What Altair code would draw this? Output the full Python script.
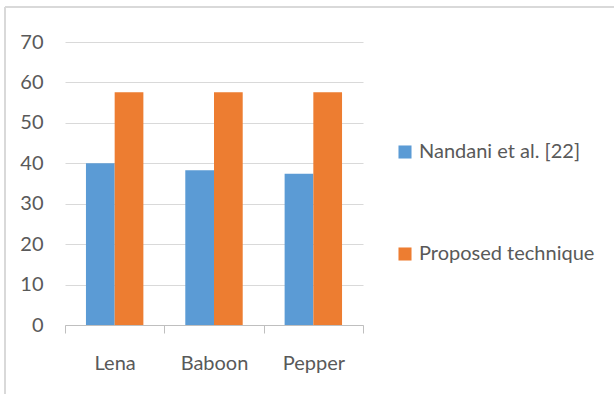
import altair as alt
import pandas as pd

# Average values per test image for each method
images = ["Lena", "Baboon", "Pepper"]
nandani = [40.0, 38.3, 37.4]
proposed = [57.6, 57.6, 57.6]
methods = ["Nandani et al. [22]", "Proposed technique"]
colors = ["#5b9bd5", "#ed7d31"]
y_ticks = [0, 10, 20, 30, 40, 50, 60, 70]

rows = []
for img, a, b in zip(images, nandani, proposed):
    rows.append({"image": img, "method": methods[0], "value": a})
    rows.append({"image": img, "method": methods[1], "value": b})
df = pd.DataFrame(rows)

FONT = "Lato"
GRAY_TEXT = "#595959"
AXIS_GRAY = "#bfbfbf"

bars = alt.Chart(df).mark_bar().encode(
    x=alt.X(
        "image:N",
        sort=images,
        title=None,
        scale=alt.Scale(paddingInner=0, paddingOuter=0),
        axis=alt.Axis(
            labelAngle=0,
            tickBand="extent",
            tickSize=8,
            tickColor=AXIS_GRAY,
            domainColor=AXIS_GRAY,
            labelPadding=20,
            labelFontSize=20,
            labelColor=GRAY_TEXT,
            labelFont=FONT,
            grid=False,
        ),
    ),
    xOffset=alt.XOffset("method:N", sort=methods, scale=alt.Scale(paddingInner=0, paddingOuter=0.73)),
    y=alt.Y(
        "value:Q",
        title=None,
        scale=alt.Scale(domain=[0, 70], nice=False),
        axis=alt.Axis(
            values=y_ticks,
            domain=False,
            ticks=False,
            labelPadding=22,
            labelFontSize=20,
            labelColor=GRAY_TEXT,
            labelFont=FONT,
            gridColor="#d9d9d9",
            gridWidth=1,
        ),
    ),
    color=alt.Color(
        "method:N",
        sort=methods,
        scale=alt.Scale(domain=methods, range=colors),
        legend=alt.Legend(
            title=None,
            orient="none",
            legendX=330,
            legendY=100,
            symbolType="square",
            symbolSize=170,
            symbolStrokeWidth=0,
            labelFontSize=20,
            labelFont=FONT,
            labelColor=GRAY_TEXT,
            labelOffset=4,
            labelLimit=0,
            rowPadding=82,
        ),
    ),
)

# thin frame along the chart's top and left edges
frame_left = alt.Chart(df).mark_rule(color="#d9d9d9", strokeWidth=1.5).encode(
    x=alt.value(-60), y=alt.value(-35), y2=alt.value(360)
)
frame_top = alt.Chart(df).mark_rule(color="#d9d9d9", strokeWidth=1.5).encode(
    x=alt.value(-60), x2=alt.value(560), y=alt.value(-35)
)

chart = alt.layer(bars, frame_left, frame_top).properties(
    width=298,
    height=283,
    background="white",
    autosize=alt.AutoSizeParams(type="none"),
    padding={"left": 65, "top": 42, "right": 251, "bottom": 69},
).configure_view(strokeWidth=0)

chart.save("out.html", embed_options={"renderer": "svg", "actions": False})
